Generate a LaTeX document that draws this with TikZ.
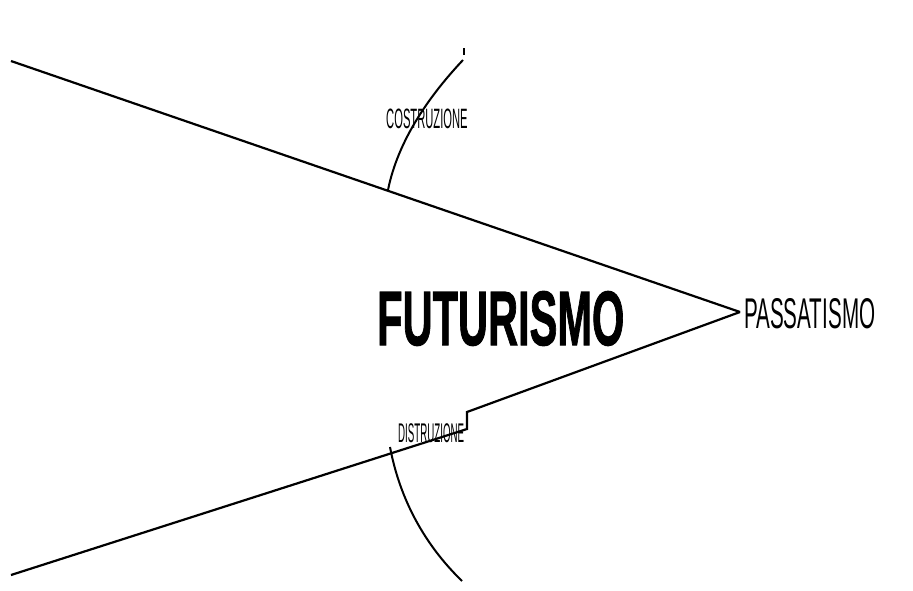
\documentclass[tikz,border=0pt]{standalone}
\usepackage{fontspec}
\usepackage{graphicx}
\setmainfont{Liberation Sans}
\newfontfamily\heavyfont{Liberation Sans Bold}[FakeBold=1.6]
\newfontfamily\thinfont{Liberation Sans}
\tikzset{
  mainline/.style={line width=2.2pt, line join=miter},
  arcline/.style={line width=2pt},
  word/.style={inner sep=0pt, anchor=base west},
}
\begin{document}
\begin{tikzpicture}[x=1pt,y=-1pt]
\useasboundingbox[fill=white] (0,0) rectangle (913,590);
% key points
\coordinate (tl) at (11,61);
\coordinate (tip) at (740,312);
\coordinate (bl) at (11,575);
\coordinate (step1) at (467,429);
\coordinate (step2) at (467,412);
\coordinate (ua) at (388,190);
\coordinate (ub) at (463,60);
\coordinate (uc) at (464,48);
\coordinate (ud) at (464,55);
\coordinate (la) at (390,447);
\coordinate (lb) at (462,581);
% megaphone lines
\draw[mainline] (tl) -- (tip);
\draw[mainline] (bl) -- (step1) -- (step2) -- (tip);
% arcs
\draw[arcline] (ua) .. controls (398,140) and (430,95) .. (ub);
\draw[line width=1.2pt] (uc) -- (ud);
\draw[arcline] (la) .. controls (400,500) and (425,545) .. (lb);
% texts
\node[word] (fut) at (377,345) {\fontsize{77}{80}\heavyfont\scalebox{0.54}[1]{FUTURISMO}};
\node[word] (pas) at (744,328) {\fontsize{43}{45}\thinfont\scalebox{0.48}[1]{PASSATISMO}};
\node[word] (cos) at (386,128) {\fontsize{28}{30}\thinfont\scalebox{0.4}[1]{COSTRUZIONE}};
\node[word] (dis) at (398,442) {\fontsize{27}{30}\thinfont\scalebox{0.36}[1]{DISTRUZIONE}};
\end{tikzpicture}
\end{document}
